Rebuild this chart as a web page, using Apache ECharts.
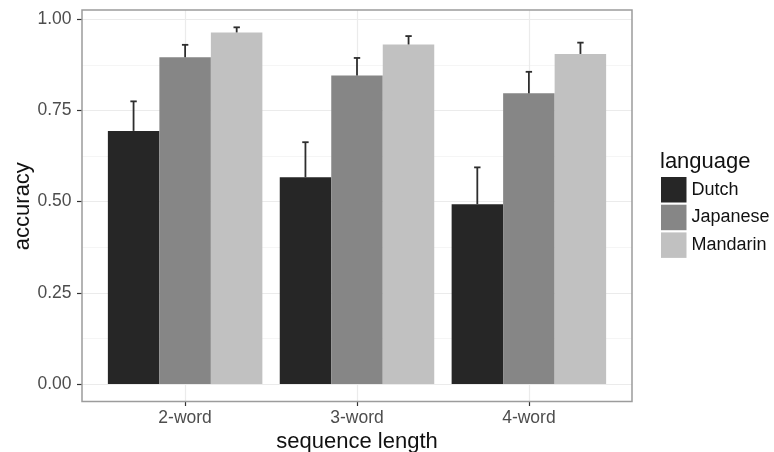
<!DOCTYPE html>
<html>
<head>
<meta charset="utf-8">
<script src="https://cdn.jsdelivr.net/npm/echarts@6/dist/echarts.min.js"></script>
<style>
  html, body { margin: 0; padding: 0; background: #ffffff; }
  #chart { width: 774px; height: 452px; }
</style>
</head>
<body>
<div id="chart"></div>
<script>
// Mean accuracy per sequence length and language, with the upper end of each error bar
const categories = ['2-word', '3-word', '4-word'];
const languages = ['Dutch', 'Japanese', 'Mandarin'];
const dutch = [0.694, 0.567, 0.493];
const japanese = [0.896, 0.846, 0.797];
const mandarin = [0.964, 0.931, 0.905];
const dutchUpper = [0.775, 0.663, 0.594];
const japaneseUpper = [0.930, 0.894, 0.856];
const mandarinUpper = [0.978, 0.954, 0.936];

const means = [dutch, japanese, mandarin];
const uppers = [dutchUpper, japaneseUpper, mandarinUpper];
const fills = ['#262626', '#868686', '#c1c1c1'];
const dodge = 0.3; // width of one bar in category units

const FONT = '"Liberation Sans", Arial, Helvetica, sans-serif';

const chart = echarts.init(document.getElementById('chart'), null, { renderer: 'canvas' });

const barSeries = languages.map((name, s) => ({
  name: name,
  type: 'bar',
  xAxisIndex: 0,
  yAxisIndex: 0,
  barWidth: 51.5,
  barGap: '0%',
  itemStyle: { color: fills[s] },
  z: 2,
  data: means[s].map((v, i) => [i + 1, v])
}));

const errData = [];
languages.forEach((name, s) => {
  means[s].forEach((v, i) => {
    errData.push([i + 1 + (s - 1) * dodge, v, uppers[s][i]]);
  });
});

const errorSeries = {
  type: 'custom',
  xAxisIndex: 0,
  yAxisIndex: 0,
  z: 4,
  silent: true,
  data: errData,
  encode: { x: 0, y: [1, 2] },
  renderItem: function (params, api) {
    const x = api.value(0);
    const lo = api.coord([x, api.value(1)]);
    const hi = api.coord([x, api.value(2)]);
    const style = { stroke: '#2e2e2e', lineWidth: 1.8 };
    return {
      type: 'group',
      children: [
        { type: 'line', shape: { x1: lo[0], y1: lo[1], x2: hi[0], y2: hi[1] }, style: style },
        { type: 'line', shape: { x1: hi[0] - 3.2, y1: hi[1], x2: hi[0] + 3.2, y2: hi[1] }, style: style }
      ]
    };
  }
};

const option = {
  backgroundColor: '#ffffff',
  animation: false,
  textStyle: { fontFamily: FONT },
  grid: [
    // value area: y from 0 to 1, x spanning the full panel width
    { left: 82, right: 142, top: 19.3, bottom: 68, containLabel: false, outerBoundsMode: 'none' },
    // category centres, full panel height
    { left: 185.1, right: 245.1, top: 10, bottom: 50.5, containLabel: false, outerBoundsMode: 'none' }
  ],
  xAxis: [
    { gridIndex: 0, type: 'value', min: 0.4, max: 3.6, show: false },
    {
      gridIndex: 1, type: 'value', min: 1, max: 3, interval: 1,
      axisLine: { show: false },
      axisTick: { show: true, length: 4.5, lineStyle: { color: '#333333', width: 1.2 } },
      axisLabel: {
        margin: 8, fontSize: 17.5, color: '#4d4d4d', fontFamily: FONT,
        showMinLabel: true, showMaxLabel: true,
        formatter: v => categories[Math.round(v) - 1]
      },
      splitLine: { show: true, lineStyle: { color: '#ebebeb', width: 1.2 } },
      name: 'sequence length',
      nameLocation: 'middle',
      nameGap: 29,
      nameMoveOverlap: false,
      nameTextStyle: { fontSize: 22, color: '#111111', fontFamily: FONT }
    }
  ],
  yAxis: [
    {
      gridIndex: 0, type: 'value', min: 0, max: 1, interval: 0.25,
      axisLine: { show: false },
      axisTick: { show: true, length: 5, lineStyle: { color: '#333333', width: 1.2 } },
      axisLabel: {
        margin: 10.5, fontSize: 17.5, color: '#4d4d4d', fontFamily: FONT,
        formatter: v => v.toFixed(2)
      },
      splitLine: { show: true, lineStyle: { color: '#ebebeb', width: 1.2 } },
      minorTick: { show: false, splitNumber: 2 },
      minorSplitLine: { show: true, lineStyle: { color: '#f3f3f3', width: 0.8 } },
      name: 'accuracy',
      nameLocation: 'middle',
      nameGap: 48,
      nameMoveOverlap: false,
      nameTextStyle: { fontSize: 22, color: '#111111', fontFamily: FONT, padding: [0, 9, 0, 0] }
    },
    { gridIndex: 1, type: 'value', min: 0, max: 1, show: false }
  ],
  legend: {
    data: languages,
    orient: 'vertical',
    left: 661,
    top: 177,
    padding: 0,
    itemWidth: 25.5,
    itemHeight: 25.5,
    itemGap: 2.2,
    icon: 'rect',
    selectedMode: false,
    textStyle: { fontSize: 18, color: '#111111', fontFamily: FONT }
  },
  graphic: [
    {
      type: 'rect',
      shape: { x: 82, y: 10, width: 550, height: 391.5 },
      style: { fill: 'none', stroke: '#9c9c9c', lineWidth: 1.5 },
      z: 10,
      silent: true
    },
    {
      type: 'text',
      left: 660,
      top: 151,
      style: { text: 'language', fontSize: 22, fill: '#111111', fontFamily: FONT },
      silent: true
    }
  ],
  series: barSeries.concat([errorSeries])
};

chart.setOption(option);
</script>
</body>
</html>
